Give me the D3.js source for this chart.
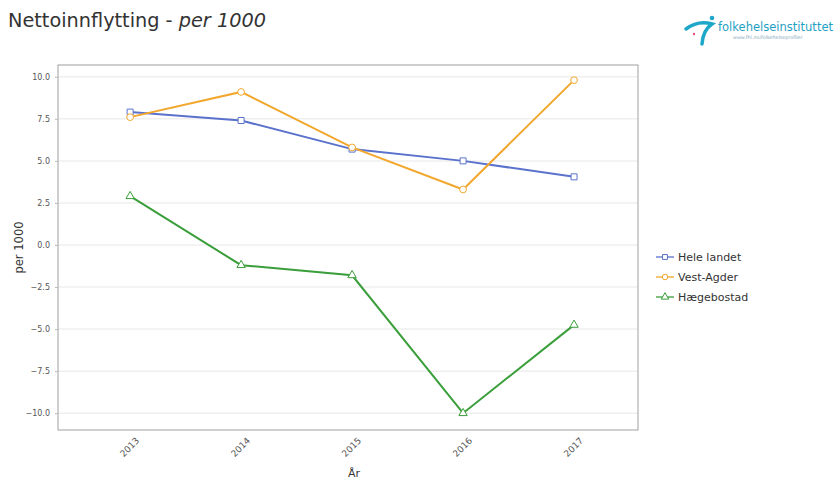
<!DOCTYPE html>
<html><head><meta charset="utf-8">
<script src="https://cdn.jsdelivr.net/npm/d3@7"></script>
<style>body{margin:0;background:#fff;}svg{display:block;font-family:"DejaVu Sans",Arial,sans-serif;}</style>
</head><body><svg id="c" width="836" height="482"></svg>
<script>
const years = ["2013","2014","2015","2016","2017"];
const heleLandet = [7.9, 7.4, 5.7, 5.0, 4.05];
const vestAgder = [7.6, 9.1, 5.8, 3.3, 9.8];
const haegebostad = [2.9, -1.2, -1.8, -10.0, -4.75];
const seriesNames = ["Hele landet","Vest-Agder","Hægebostad"];
const yTicks = [10, 7.5, 5, 2.5, 0, -2.5, -5, -7.5, -10];

const colors = ["#5a72cc","#f2a72e","#3a9e3a"];
const shapes = [d3.symbolSquare, d3.symbolCircle, d3.symbolTriangle];
const series = [heleLandet, vestAgder, haegebostad].map((v,i)=>({name:seriesNames[i], values:v, color:colors[i], shape:shapes[i]}));

const svg = d3.select("#c");
const L=58, R=638, T=65, B=430;
const x = d3.scalePoint().domain(years).range([L,R]).padding(0.613).align(0.53);
const y = d3.scaleLinear().domain([-11.0, 10.7]).range([B,T]);

// title
const title = svg.append("text").attr("x",8).attr("y",27).attr("font-size",19.3).attr("fill","#333");
title.append("tspan").text("Nettoinnflytting - ");
title.append("tspan").attr("font-style","italic").text("per 1000");

// logo
const lg = svg.append("g");
lg.append("path").attr("d","M 686 29 Q 698 20 712 24 Q 703 30 702 44").attr("fill","none").attr("stroke","#1fa7c9").attr("stroke-width",3.5).attr("stroke-linecap","round");
lg.append("circle").attr("cx",712).attr("cy",18).attr("r",2.3).attr("fill","#1fa7c9");
lg.append("circle").attr("cx",694).attr("cy",34).attr("r",1.2).attr("fill","#e94e77");
lg.append("text").attr("x",718).attr("y",31).attr("font-size",11.5).attr("fill","#1f9fc4").attr("textLength",115).attr("lengthAdjust","spacingAndGlyphs").text("folkehelseinstituttet");
lg.append("text").attr("x",733).attr("y",39).attr("font-size",4.8).attr("fill","#8ab").text("www.fhi.no/folkehelseprofiler");

// grid
svg.append("g").selectAll("line").data(yTicks).join("line")
  .attr("x1",L).attr("x2",R).attr("y1",d=>y(d)).attr("y2",d=>y(d))
  .attr("stroke","#efefef").attr("stroke-width",1.5);

// box
svg.append("rect").attr("x",L).attr("y",T).attr("width",R-L).attr("height",B-T)
  .attr("fill","none").attr("stroke","#a0a0a0").attr("stroke-width",1);

// y axis
const ya = svg.append("g").attr("transform",`translate(${L},0)`)
  .call(d3.axisLeft(y).tickValues(yTicks).tickFormat(d3.format(".1f")).tickSize(3).tickPadding(5));
ya.select(".domain").remove();
ya.selectAll("line").attr("stroke","#bbb");
ya.selectAll("text").attr("font-size",8).attr("fill","#555").attr("font-family","'DejaVu Sans', sans-serif");

// x axis
const xa = svg.append("g").attr("transform",`translate(0,${B})`)
  .call(d3.axisBottom(x).tickSize(0).tickPadding(0));
xa.select(".domain").remove();
xa.selectAll("text").attr("font-size",9).attr("fill","#555").attr("font-family","'DejaVu Sans', sans-serif")
  .attr("text-anchor","end").attr("dy","0.35em").attr("y",0)
  .attr("transform","translate(7,9) rotate(-45)");

// axis titles
svg.append("text").attr("transform",`translate(23,${(T+B)/2}) rotate(-90)`).attr("text-anchor","middle")
  .attr("font-size",11.5).attr("fill","#333").attr("font-family","'DejaVu Sans', sans-serif").text("per 1000");
svg.append("text").attr("x",(L+R)/2+6).attr("y",477).attr("text-anchor","middle")
  .attr("font-size",11).attr("fill","#333").attr("font-family","'DejaVu Sans', sans-serif").text("År");

// lines
const line = d3.line().x((d,i)=>x(years[i])).y(d=>y(d));
series.forEach(s=>{
  svg.append("path").datum(s.values).attr("d",line).attr("fill","none")
    .attr("stroke",s.color).attr("stroke-width",2);
  svg.append("g").selectAll("path").data(s.values).join("path")
    .attr("d",d3.symbol().type(s.shape).size(s.shape===d3.symbolTriangle?30:36))
    .attr("transform",(d,i)=>`translate(${x(years[i])},${y(d)})`)
    .attr("fill","#fff").attr("stroke",s.color).attr("stroke-width",1);
});

// legend
const leg = svg.append("g").attr("font-family","'DejaVu Sans', sans-serif");
series.forEach((s,i)=>{
  const yy = 257 + i*20;
  leg.append("line").attr("x1",656).attr("x2",674).attr("y1",yy).attr("y2",yy).attr("stroke",s.color).attr("stroke-width",1.3);
  leg.append("path").attr("d",d3.symbol().type(s.shape).size(24)).attr("transform",`translate(665,${yy})`)
    .attr("fill","#fff").attr("stroke",s.color).attr("stroke-width",1);
  leg.append("text").attr("x",678).attr("y",yy+4).attr("font-size",11).attr("fill","#333").text(s.name);
});
</script></body></html>
